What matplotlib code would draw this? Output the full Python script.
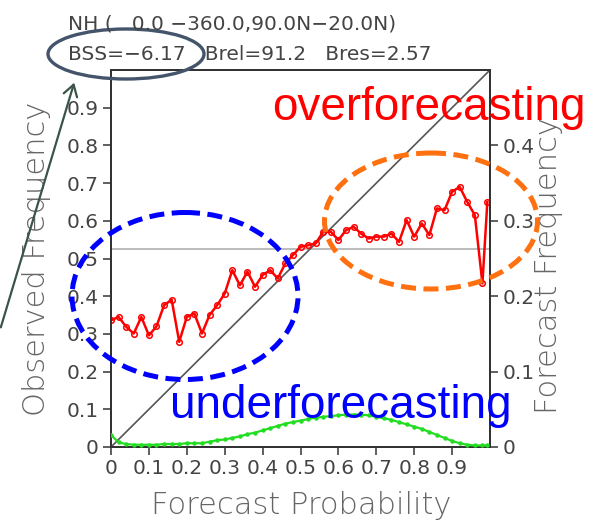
import numpy as np
import matplotlib
matplotlib.use('Agg')
import matplotlib.pyplot as plt
from matplotlib.patches import Ellipse

# forecast probability bins
prob = [0.0, 0.02, 0.04, 0.06, 0.08, 0.10, 0.12, 0.14, 0.16, 0.18,
        0.20, 0.22, 0.24, 0.26, 0.28, 0.30, 0.32, 0.34, 0.36, 0.38,
        0.40, 0.42, 0.44, 0.46, 0.48, 0.50, 0.52, 0.54, 0.56, 0.58,
        0.60, 0.62, 0.64, 0.66, 0.68, 0.70, 0.72, 0.74, 0.76, 0.78,
        0.80, 0.82, 0.84, 0.86, 0.88, 0.90, 0.92, 0.94, 0.96, 0.98, 0.993]

# observed frequency (left axis)
obs = [0.336, 0.345, 0.319, 0.301, 0.345, 0.296, 0.320, 0.376, 0.391, 0.279,
       0.345, 0.354, 0.301, 0.350, 0.376, 0.407, 0.469, 0.429, 0.465, 0.425,
       0.456, 0.469, 0.447, 0.487, 0.509, 0.531, 0.535, 0.540, 0.571, 0.571,
       0.549, 0.575, 0.584, 0.566, 0.553, 0.558, 0.558, 0.566, 0.544, 0.602,
       0.558, 0.593, 0.562, 0.633, 0.628, 0.677, 0.690, 0.650, 0.615, 0.434, 0.650]

# forecast frequency (right axis)
fcst = [0.016, 0.006, 0.004, 0.003, 0.003, 0.003, 0.003, 0.004, 0.004, 0.004,
        0.005, 0.005, 0.005, 0.007, 0.009, 0.010, 0.012, 0.014, 0.017, 0.019,
        0.022, 0.025, 0.028, 0.031, 0.033, 0.035, 0.037, 0.039, 0.040, 0.041,
        0.042, 0.043, 0.043, 0.043, 0.042, 0.040, 0.038, 0.036, 0.033, 0.030,
        0.027, 0.024, 0.020, 0.016, 0.012, 0.008, 0.005, 0.003, 0.002, 0.002, 0.002]

clim = 0.525

xticks = [0, 0.1, 0.2, 0.3, 0.4, 0.5, 0.6, 0.7, 0.8, 0.9]
xlabels = ['0', '0.1', '0.2', '0.3', '0.4', '0.5', '0.6', '0.7', '0.8', '0.9']
yticks = [0, 0.1, 0.2, 0.3, 0.4, 0.5, 0.6, 0.7, 0.8, 0.9]
ylabels = ['0', '0.1', '0.2', '0.3', '0.4', '0.5', '0.6', '0.7', '0.8', '0.9']
y2ticks = [0, 0.1, 0.2, 0.3, 0.4]
y2labels = ['0', '0.1', '0.2', '0.3', '0.4']

title1 = 'NH (   0.0 \u2212360.0,90.0N\u221220.0N)'
title2 = 'BSS=\u22126.17   Brel=91.2   Bres=2.57'

W, H = 604, 523
fig = plt.figure(figsize=(W / 100, H / 100), dpi=100)
gray = '#444444'
tfs = 14.5
lfs = 22

ax = fig.add_axes([111 / W, 1 - 447 / H, 379 / W, 377 / H])
ax.set_xlim(0, 1)
ax.set_ylim(0, 1)
ax.plot([0, 1], [0, 1], color='#555555', lw=1.2, zorder=2)
ax.axhline(clim, color='#b0b0b0', lw=1.2, zorder=1)
ax.plot(prob, obs, color='red', lw=1.8, marker='o', ms=4, mfc='none',
        mec='red', mew=1.1, zorder=4)
ax.set_xticks(xticks)
ax.set_xticklabels(xlabels)
ax.set_yticks(yticks)
ax.set_yticklabels(ylabels)
ax.tick_params(direction='out', length=6, width=1.2, colors=gray,
               labelsize=tfs, pad=3)
for s in ax.spines.values():
    s.set_color('#333333')
    s.set_linewidth(1.4)
ax.set_xlabel('Forecast Probability', fontsize=lfs, color='#666666',
              fontweight='light')
ax.set_ylabel('Observed Frequency', fontsize=lfs, color='#666666',
              fontweight='light')
ax.xaxis.set_label_coords(0.501, -0.118)
ax.yaxis.set_label_coords(-0.158, 0.5)

ax2 = ax.twinx()
ax2.set_ylim(0, 0.5)
ax2.plot(prob, fcst, color='#22dd22', lw=1.6, marker='o', ms=2.2, zorder=3)
ax2.set_yticks(y2ticks)
ax2.set_yticklabels(y2labels)
ax2.tick_params(direction='out', length=6, width=1.2, colors=gray,
                labelsize=tfs, pad=3)
for s in ax2.spines.values():
    s.set_color('#333333')
    s.set_linewidth(1.4)
ax2.set_ylabel('Forecast Frequency', fontsize=lfs, color='#666666',
               fontweight='light')
ax2.yaxis.set_label_coords(1.117, 0.48)

# overlay in pixel units for the annotations
ov = fig.add_axes([0, 0, 1, 1])
ov.set_xlim(0, W)
ov.set_ylim(H, 0)
ov.axis('off')
ov.patch.set_visible(False)
ov.set_zorder(10)

ov.text(68, 29, title1, fontsize=tfs, color=gray, va='baseline')
ov.text(68, 60, title2, fontsize=tfs, color=gray, va='baseline')

ov.text(272, 120, 'overforecasting', fontsize=33, color='red',
        family='Liberation Sans', va='baseline')
ov.text(170, 418, 'underforecasting', fontsize=33, color='blue',
        family='Liberation Sans', va='baseline')

ov.add_patch(Ellipse((185, 296), 226, 167, fill=False, ec='blue', lw=3.6,
                     ls=(0, (3, 1.5))))
ov.add_patch(Ellipse((431, 221), 213, 136, fill=False, ec='#ff7010', lw=3.6,
                     ls=(0, (3, 1.5))))
ov.add_patch(Ellipse((126, 54), 156, 50, fill=False, ec='#44546a', lw=2.4))

ov.annotate('', xy=(75, 80), xytext=(0, 330),
            arrowprops=dict(arrowstyle='->,head_length=0.8,head_width=0.5',
                            color='#3a5548', lw=1.6))

fig.savefig('out.png', dpi=100)
